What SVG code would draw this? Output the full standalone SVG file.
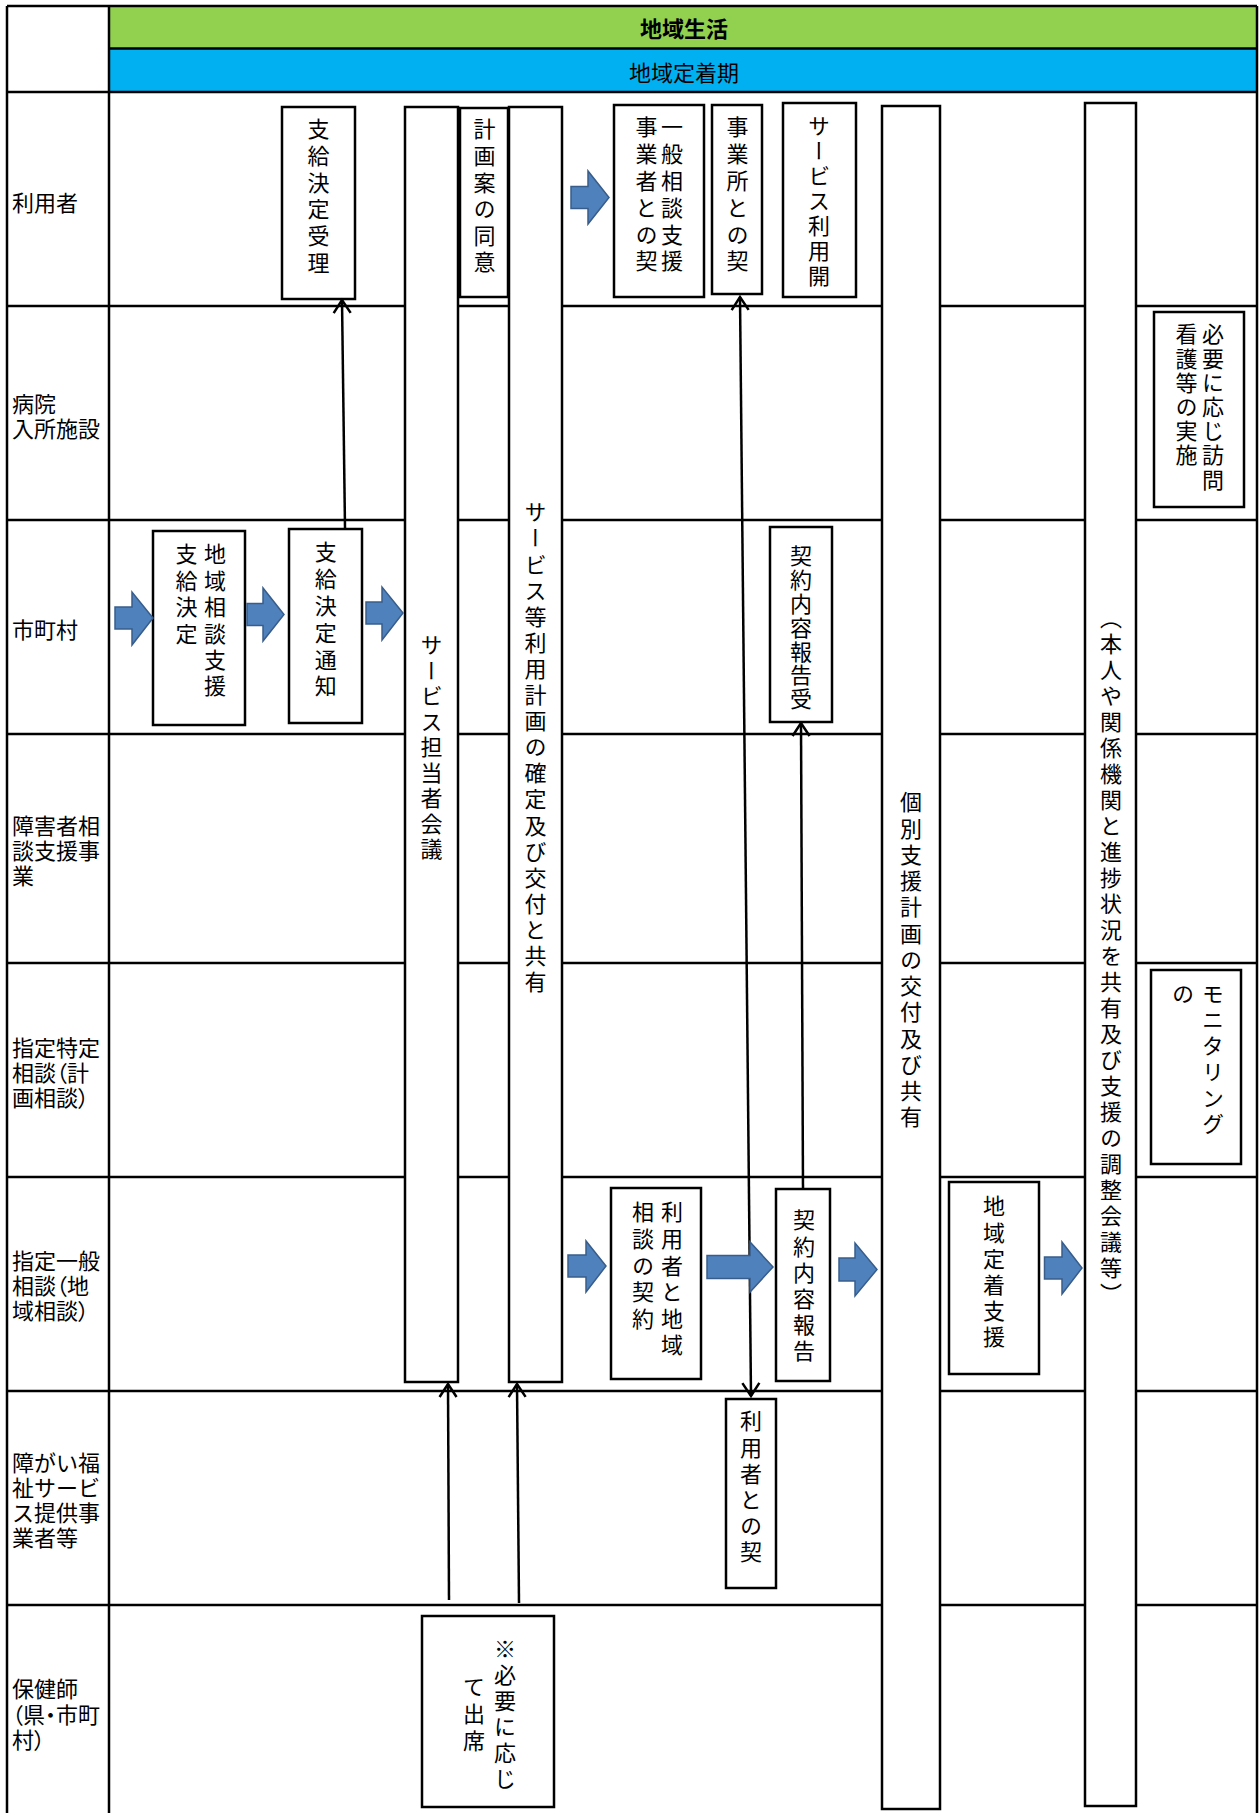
<svg xmlns="http://www.w3.org/2000/svg" width="1259" height="1813" viewBox="0 0 1259 1813">
<style>
text{font-family:"Noto Sans CJK JP","Noto Sans CJK SC",sans-serif;font-size:22px;fill:#000}
.lbl{dominant-baseline:central}
.p{font-feature-settings:"palt" 1}
.hd{text-anchor:middle;dominant-baseline:central}
.v{writing-mode:vertical-rl}
.grid line{stroke:#000;stroke-width:2.5}
.box{fill:#fff;stroke:#000;stroke-width:2.5}
.barrow{fill:#4F81BD;stroke:#385D8A;stroke-width:1.5}
.conn{stroke:#000;stroke-width:2.5;fill:none}
</style>
<defs>
<marker id="ah" markerUnits="userSpaceOnUse" markerWidth="30" markerHeight="30" refX="0" refY="0" orient="auto-start-reverse" overflow="visible">
<path d="M-13,-8.5 L0,0 L-13,8.5" fill="none" stroke="#000" stroke-width="2.5"/>
</marker>
</defs>
<rect x="0" y="0" width="1259" height="1813" fill="#fff"/>
<g id="header">
<rect x="109" y="6" width="1148" height="42.5" fill="#92D050"/>
<rect x="109" y="48.5" width="1148" height="43.5" fill="#00B0F0"/>
<text class="hd" x="684" y="27" font-weight="bold">地域生活</text>
<text class="hd" x="684" y="71">地域定着期</text>
</g>
<g id="grid" class="grid">
<line x1="7" y1="6" x2="1257" y2="6"/>
<line x1="109" y1="48.5" x2="1257" y2="48.5"/>
<line x1="7" y1="92" x2="1257" y2="92"/>
<line x1="7" y1="306" x2="1257" y2="306"/>
<line x1="7" y1="520" x2="1257" y2="520"/>
<line x1="7" y1="734" x2="1257" y2="734"/>
<line x1="7" y1="963" x2="1257" y2="963"/>
<line x1="7" y1="1177" x2="1257" y2="1177"/>
<line x1="7" y1="1391" x2="1257" y2="1391"/>
<line x1="7" y1="1605" x2="1257" y2="1605"/>
<line x1="7" y1="6" x2="7" y2="1813"/>
<line x1="109" y1="6" x2="109" y2="1813"/>
<line x1="1257" y1="6" x2="1257" y2="1813"/>
</g>
<g id="row-labels">
<text class="lbl" x="12" y="201">利用者</text>
<text class="lbl" x="12" y="402">病院<tspan x="12" dy="25">入所施設</tspan></text>
<text class="lbl" x="12" y="628">市町村</text>
<text class="lbl" x="12" y="824">障害者相<tspan x="12" dy="25">談支援事</tspan><tspan x="12" dy="25">業</tspan></text>
<text class="lbl p" x="12" y="1046">指定特定<tspan x="12" dy="25">相談（計</tspan><tspan x="12" dy="25">画相談）</tspan></text>
<text class="lbl p" x="12" y="1259">指定一般<tspan x="12" dy="25">相談（地</tspan><tspan x="12" dy="25">域相談）</tspan></text>
<text class="lbl" x="12" y="1461">障がい福<tspan x="12" dy="25">祉サービ</tspan><tspan x="12" dy="25">ス提供事</tspan><tspan x="12" dy="25">業者等</tspan></text>
<text class="lbl p" x="12" y="1687">保健師<tspan x="12" dy="25.5">（県・市町</tspan><tspan x="12" dy="25.5">村）</tspan></text>
</g>
<g id="nodeA"><rect class="box" x="282" y="107" width="73" height="192"/><text class="v" x="318.5" y="118" letter-spacing="4.7">支給決定受理</text></g>
<g id="nodeB"><rect class="box" x="405" y="107" width="53" height="1275"/><text class="v" x="431.5" y="634" letter-spacing="3.5">サービス担当者会議</text></g>
<g id="nodeC"><rect class="box" x="460" y="108" width="48" height="189"/><text class="v" x="484.5" y="118" letter-spacing="4.6">計画案の同意</text></g>
<g id="nodeD"><rect class="box" x="509" y="107" width="53" height="1275"/><text class="v" x="535.5" y="501" letter-spacing="4.1">サービス等利用計画の確定及び交付と共有</text></g>
<g id="nodeE"><rect class="box" x="614" y="105" width="90" height="192"/><text class="v" x="672" y="116" letter-spacing="4.8">一般相談支援</text><text class="v" x="646.5" y="116" letter-spacing="4.8">事業者との契</text></g>
<g id="nodeF"><rect class="box" x="712" y="105" width="50" height="189"/><text class="v" x="737.5" y="116" letter-spacing="4.8">事業所との契</text></g>
<g id="nodeG"><rect class="box" x="783" y="103" width="73" height="194"/><text class="v" x="819" y="115" letter-spacing="3">サービス利用開</text></g>
<g id="nodeH"><rect class="box" x="882" y="106" width="58" height="1703"/><text class="v" x="911" y="791" letter-spacing="4.25">個別支援計画の交付及び共有</text></g>
<g id="nodeI"><rect class="box" x="1085" y="103" width="51" height="1703"/><text class="v" x="1111" y="607" letter-spacing="4">（本人や関係機関と進捗状況を共有及び支援の調整会議等）</text></g>
<g id="nodeJ"><rect class="box" x="1154" y="312" width="90" height="195"/><text class="v" x="1213" y="323" letter-spacing="2.2">必要に応じ訪問</text><text class="v" x="1186.5" y="323" letter-spacing="2.2">看護等の実施</text></g>
<g id="nodeK"><rect class="box" x="770" y="527" width="62" height="195"/><text class="v" x="801" y="545" letter-spacing="1.8">契約内容報告受</text></g>
<g id="nodeL"><rect class="box" x="153" y="531" width="92" height="194"/><text class="v" x="215" y="543" letter-spacing="4.4">地域相談支援</text><text class="v" x="186.5" y="543" letter-spacing="4.4">支給決定</text></g>
<g id="nodeM"><rect class="box" x="289" y="529" width="73" height="194"/><text class="v" x="325.7" y="541" letter-spacing="4.8">支給決定通知</text></g>
<g id="nodeN"><rect class="box" x="1151" y="970" width="90" height="194"/><text class="v" x="1213" y="983" letter-spacing="4">モニタリング</text><text class="v" x="1183" y="983" letter-spacing="4">の</text></g>
<g id="nodeO"><rect class="box" x="611" y="1188" width="90" height="191"/><text class="v" x="672" y="1201" letter-spacing="4.6">利用者と地域</text><text class="v" x="643" y="1201" letter-spacing="4.6">相談の契約</text></g>
<g id="nodeP"><rect class="box" x="776" y="1189" width="54" height="192"/><text class="v" x="804" y="1209" letter-spacing="4.2">契約内容報告</text></g>
<g id="nodeQ"><rect class="box" x="949" y="1182" width="90" height="192"/><text class="v" x="994" y="1195" letter-spacing="4.2">地域定着支援</text></g>
<g id="nodeR"><rect class="box" x="726" y="1399" width="50" height="189"/><text class="v" x="751" y="1410" letter-spacing="4.2">利用者との契</text></g>
<g id="nodeS"><rect class="box" x="422" y="1616" width="132" height="191"/><text class="v" x="505" y="1638" letter-spacing="4">※必要に応じ</text><text class="v" x="474" y="1676" letter-spacing="5">て出席</text></g>
<g id="connectors">
<path class="conn" d="M345,528 L342,300" marker-end="url(#ah)"/>
<path class="conn" d="M449,1600 L448,1384" marker-end="url(#ah)"/>
<path class="conn" d="M519,1603 L517,1384" marker-end="url(#ah)"/>
<path class="conn" d="M740,297 L751,1396" marker-start="url(#ah)" marker-end="url(#ah)"/>
<path class="conn" d="M803,1189 L801,723" marker-end="url(#ah)"/>
<polygon class="barrow" points="115,607 132,607 132,592 153,618 132,645 132,629 115,629"/>
<polygon class="barrow" points="247,603.5 263,603.5 263,588 284,614.5 263,641 263,625.5 247,625.5"/>
<polygon class="barrow" points="366,602 382,602 382,587 403,613 382,640 382,624 366,624"/>
<polygon class="barrow" points="571,186.5 588,186.5 588,171 609,197.5 588,224 588,208.5 571,208.5"/>
<polygon class="barrow" points="568,1255 586,1255 586,1241 606,1266 586,1292 586,1277 568,1277"/>
<polygon class="barrow" points="707,1255.5 750,1255.5 750,1242 773,1267 750,1292 750,1278.5 707,1278.5"/>
<polygon class="barrow" points="839,1258 855,1258 855,1243 877,1269.5 855,1296 855,1281 839,1281"/>
<polygon class="barrow" points="1044.5,1257 1062,1257 1062,1242 1082,1268 1062,1294 1062,1279 1044.5,1279"/>
</g>
</svg>
